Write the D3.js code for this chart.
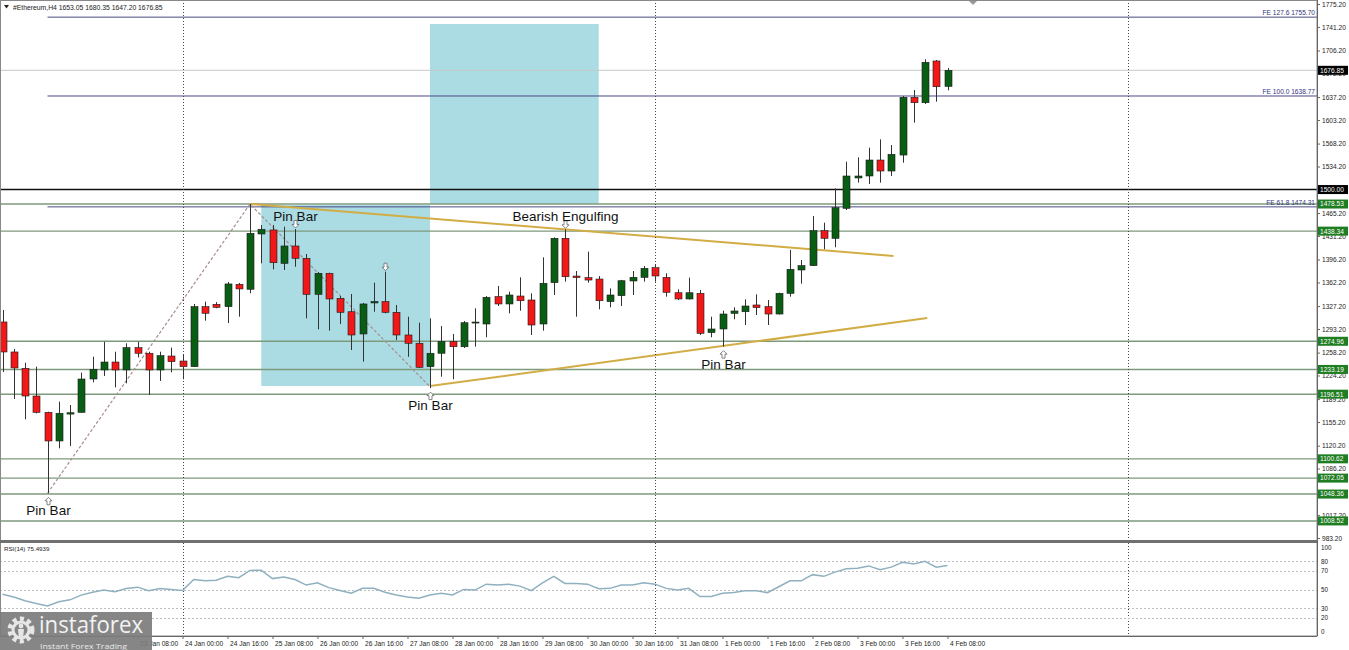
<!DOCTYPE html>
<html><head><meta charset="utf-8">
<script src="https://cdn.jsdelivr.net/npm/d3@7"></script>
<style>body{margin:0;background:#fff;overflow:hidden} svg{display:block;font-family:"Liberation Sans",Arial,sans-serif}</style>
</head><body><svg id="c" width="1349" height="650"></svg>
<script>
// ---------- DATA ----------
const symbolName = "#Ethereum,H4";
const headerOHLC = ["1653.05", "1680.35", "1647.20", "1676.85"];
const firstBarIndex = -16; // bars relative to 24 Jan 00:00 (H4)
const opens  = [1303.6,1259.1,1234.9,1193.8,1169.6,1127.1,1167.0,1169.6,1219.0,1232.4,1244.2,1232.4,1265.5,1257.2,1232.4,1253.1,1245.7,1237.3,1326.3,1329.8,1326.3,1359.5,1352.1,1434.1,1440.1,1390.6,1416.3,1398.0,1344.6,1375.8,1338.7,1318.8,1285.8,1331.8,1333.8,1317.9,1284.3,1272.0,1237.3,1257.2,1274.4,1266.9,1302.0,1300.6,1341.1,1330.3,1342.1,1336.2,1300.6,1361.9,1427.7,1371.7,1369.3,1367.3,1333.7,1342.6,1364.4,1369.8,1384.1,1369.8,1347.0,1337.7,1346.1,1287.8,1293.2,1316.4,1318.8,1328.8,1326.3,1315.4,1346.1,1380.7,1387.1,1439.0,1427.7,1472.2,1517.2,1520.1,1543.8,1527.5,1551.2,1636.8,1628.8,1690.7,1653.05];
const highs  = [1321.4,1263.5,1243.2,1237.3,1170.5,1185.4,1180.5,1228.4,1252.1,1274.3,1259.5,1272.0,1274.3,1259.5,1259.5,1265.5,1254.6,1330.3,1333.7,1333.0,1363.0,1361.4,1478.5,1447.4,1447.4,1444.9,1441.5,1404.4,1377.7,1376.7,1342.1,1345.1,1331.8,1361.9,1378.2,1328.8,1311.4,1302.5,1309.0,1297.6,1285.8,1305.0,1323.9,1342.0,1357.0,1348.5,1369.8,1346.1,1399.5,1429.0,1441.0,1379.2,1407.8,1371.7,1353.5,1366.0,1379.2,1386.6,1388.1,1375.8,1352.1,1369.3,1351.0,1311.4,1320.3,1325.4,1337.2,1344.6,1336.2,1347.0,1410.4,1395.5,1460.8,1450.9,1501.8,1541.3,1547.8,1562.1,1574.5,1566.0,1638.8,1647.7,1693.2,1692.1,1680.35];
const lows   = [1229.4,1189.4,1159.3,1168.0,1049.5,1116.2,1119.7,1169.0,1214.1,1223.5,1206.7,1212.6,1251.0,1195.3,1216.1,1229.0,1218.6,1236.8,1305.5,1324.0,1302.0,1311.4,1346.2,1390.6,1381.7,1380.7,1385.5,1309.0,1292.7,1290.7,1300.6,1262.0,1244.7,1318.8,1316.4,1276.9,1251.9,1235.4,1205.5,1222.4,1218.6,1265.0,1267.0,1280.9,1327.3,1316.4,1320.3,1284.3,1290.7,1343.6,1363.4,1311.4,1361.9,1322.4,1325.4,1327.3,1343.6,1363.4,1363.4,1341.1,1336.2,1336.9,1284.3,1280.9,1267.0,1307.6,1299.1,1313.9,1299.1,1314.7,1341.1,1360.4,1386.6,1411.4,1414.4,1469.7,1510.2,1508.3,1510.2,1520.1,1539.8,1599.2,1626.9,1630.3,1647.20];
const closes = [1259.1,1235.4,1193.8,1169.6,1127.1,1168.2,1169.0,1219.0,1233.4,1244.2,1232.4,1265.5,1257.2,1232.4,1253.6,1244.7,1237.3,1326.3,1316.5,1325.3,1360.0,1352.6,1435.1,1441.1,1391.5,1416.3,1398.0,1344.6,1375.8,1337.7,1317.9,1284.3,1330.3,1334.0,1317.9,1284.3,1272.0,1236.4,1257.2,1274.4,1266.9,1302.5,1303.5,1340.2,1330.3,1343.6,1335.1,1299.1,1361.0,1427.7,1370.7,1369.5,1365.8,1335.1,1343.6,1364.8,1369.8,1383.2,1371.8,1347.6,1337.7,1347.0,1286.8,1293.2,1315.4,1319.9,1327.3,1324.8,1315.4,1346.1,1381.7,1387.1,1439.0,1427.7,1473.1,1520.1,1520.1,1543.8,1527.5,1552.3,1636.8,1628.8,1688.7,1652.5,1676.85];
const rsiValues = [45,42,38,35,32.5,37,39,44,47,49.4,47.7,51,52.5,48.7,51,50,49,60.6,59.2,59.9,64,62.6,70.3,70.5,61.6,63.3,60.6,54.7,57.1,52,49,46,51.2,51.2,47,44.2,42,40.8,44.2,46,44.2,50.1,49.4,55.7,54.7,55.7,53.6,48.7,57.1,64,56.4,56.4,55.7,50.8,51.2,54.7,54.7,57.1,55.7,51.2,49.4,51.2,42.5,42.5,46,46.7,48.7,48.7,46.7,52.9,59.2,59.2,65.8,64,68.5,72,72.7,75.1,71,73.8,79,77.2,80,73.8,75.49];
const rsiLabel = "RSI(14) 75.4939";
const priceTicks = [1775.20,1741.20,1706.20,1672.20,1637.20,1603.20,1568.20,1534.20,1499.20,1465.20,1431.20,1396.20,1362.20,1327.20,1293.20,1258.20,1224.20,1189.20,1155.20,1120.20,1086.20,1051.20,1017.20,983.20];
const rsiTicks = [100,80,70,50,30,20,0];
const rsiLevels = [80,70,50,30,20];
const timeTickIndex = [-4,0,4,8,12,16,20,24,28,32,36,40,44,48,52,56,60,64,68];
const timeTickLabels = ["23 Jan 08:00","24 Jan 00:00","24 Jan 16:00","25 Jan 08:00","26 Jan 00:00","26 Jan 16:00","27 Jan 08:00","28 Jan 00:00","28 Jan 16:00","29 Jan 08:00","30 Jan 00:00","30 Jan 16:00","31 Jan 08:00","1 Feb 00:00","1 Feb 16:00","2 Feb 08:00","3 Feb 00:00","3 Feb 16:00","4 Feb 08:00"];
const weekSeparatorIndex = [0, 42, 84];
const supportLevels = [1478.53,1438.34,1274.96,1233.19,1196.51,1100.62,1072.05,1048.36,1008.52];
const roundLevel = 1500.00;
const lastPrice = 1676.85;
const fibNames = ["FE 127.6","FE 100.0","FE 61.8"];
const fibValues = [1755.70,1638.77,1474.31];
const fibStartIndex = -12;
const zigzagIndex = [-12, 6, 22];
const zigzagPrice = [1049.5, 1478.5, 1207.6];
const upperTrendIndex = [6, 63.2];
const upperTrendPrice = [1478.5, 1401.5];
const lowerTrendIndex = [22, 66.2];
const lowerTrendPrice = [1208.5, 1309.5];
const zoneStart = [7, 22];
const zoneEnd = [22, 37];
const zoneTop = [1477.0, 1745.5];
const zoneBottom = [1208.7, 1478.6];
const noteIndex = [-12, 10, 18, 22, 34, 48];
const noteSide  = ["low","high","high","low","high","low"];
const noteText  = ["Pin Bar","Pin Bar","","Pin Bar","Bearish Engulfing","Pin Bar"];

// ---------- LAYOUT ----------
const plotR = 1317, mainTop = 0, mainBot = 541, rsiBot = 636;
const svg = d3.select("#c");
const bars = opens.map((o,i)=>({i:firstBarIndex+i,o,h:highs[i],l:lows[i],c:closes[i]}));

const x = d3.scaleLinear().domain([0, 84]).range([182.5, 1127.5]);
const y = d3.scaleLinear().domain([983.2, 1775.2]).range([538, 4]);
const yr = d3.scaleLinear().domain([0, 100]).range([636.5, 542.5]);

const smallFont = "6.6px";
const ink = "#222";

svg.append("defs").append("clipPath").attr("id","mainClip").append("rect")
  .attr("x",0).attr("y",mainTop).attr("width",plotR).attr("height",mainBot-mainTop);
const main = svg.append("g").attr("clip-path","url(#mainClip)");

// zones
main.selectAll("rect.zone").data(zoneStart).join("rect").attr("class","zone")
  .attr("x",(d)=>x(d)).attr("width",(d,i)=>x(zoneEnd[i])-x(d))
  .attr("y",(d,i)=>y(zoneTop[i])).attr("height",(d,i)=>y(zoneBottom[i])-y(zoneTop[i]))
  .attr("fill","#abdce4");

// week separators
svg.selectAll("line.wk").data(weekSeparatorIndex).join("line").attr("class","wk")
  .attr("x1",d=>Math.round(x(d))+0.5).attr("x2",d=>Math.round(x(d))+0.5)
  .attr("y1",0).attr("y2",rsiBot)
  .attr("stroke","#444").attr("stroke-width",1).attr("stroke-dasharray","1,2");

// current price line
main.append("line").attr("x1",0).attr("x2",plotR).attr("y1",y(lastPrice)).attr("y2",y(lastPrice))
  .attr("stroke","#c8c8c8").attr("stroke-width",1);

// support levels
main.selectAll("line.sup").data(supportLevels).join("line").attr("class","sup")
  .attr("x1",0).attr("x2",plotR).attr("y1",d=>y(d)).attr("y2",d=>y(d))
  .attr("stroke","#7d9a7d").attr("stroke-width",1.4);

// fib lines
main.selectAll("line.fib").data(fibValues).join("line").attr("class","fib")
  .attr("x1",x(fibStartIndex)).attr("x2",plotR).attr("y1",d=>y(d)).attr("y2",d=>y(d))
  .attr("stroke","#4b4b85").attr("stroke-width",1);
svg.selectAll("text.fib").data(fibValues).join("text").attr("class","fib")
  .attr("x",plotR-2).attr("y",d=>y(d)-2).attr("text-anchor","end")
  .attr("font-size",smallFont).attr("fill","#33337a")
  .text((d,i)=>fibNames[i]+" "+d.toFixed(2));

// round level
main.append("line").attr("x1",0).attr("x2",plotR).attr("y1",y(roundLevel)).attr("y2",y(roundLevel))
  .attr("stroke","#111").attr("stroke-width",1.6);

// zigzag
const lineGen = d3.line().x(d=>x(d[0])).y(d=>y(d[1]));
main.append("path").datum(zigzagIndex.map((d,i)=>[d,zigzagPrice[i]]))
  .attr("d",lineGen).attr("fill","none").attr("stroke","#a88c8c").attr("stroke-width",1.2)
  .attr("stroke-dasharray","3,2");

// trend lines
[[upperTrendIndex,upperTrendPrice],[lowerTrendIndex,lowerTrendPrice]].forEach(([xi,pi])=>{
  main.append("path").datum(xi.map((d,i)=>[d,pi[i]])).attr("d",lineGen)
    .attr("fill","none").attr("stroke","#d2ad45").attr("stroke-width",2);
});

// candles
const cg = main.append("g");
cg.selectAll("line.wick").data(bars).join("line").attr("class","wick")
  .attr("x1",d=>Math.round(x(d.i))+0.5).attr("x2",d=>Math.round(x(d.i))+0.5)
  .attr("y1",d=>y(d.h)).attr("y2",d=>y(d.l)).attr("stroke","#333").attr("stroke-width",1);
cg.selectAll("rect.body").data(bars).join("rect").attr("class","body")
  .attr("x",d=>Math.round(x(d.i))-3).attr("width",7)
  .attr("y",d=>y(Math.max(d.o,d.c)))
  .attr("height",d=>Math.max(1,Math.abs(y(d.o)-y(d.c))))
  .attr("fill",d=>d.c>=d.o?"#0a5e14":"#f01818")
  .attr("stroke","#1a1a1a").attr("stroke-width",0.6);

// notes (arrows + text)
const upArrow = "M0,0 L3.5,3.5 L1.5,3.5 L1.5,7.5 L-1.5,7.5 L-1.5,3.5 L-3.5,3.5 Z";
const downArrow = "M0,0 L3.5,-3.5 L1.5,-3.5 L1.5,-7.5 L-1.5,-7.5 L-1.5,-3.5 L-3.5,-3.5 Z";
noteIndex.forEach((idx,k)=>{
  const b = bars[idx-firstBarIndex];
  const cx = Math.round(x(idx))+0.5;
  if(noteSide[k]==="low"){
    const yy = y(b.l);
    main.append("path").attr("d",upArrow).attr("transform",`translate(${cx},${yy+4})`)
      .attr("fill","#fff").attr("stroke","#666").attr("stroke-width",0.8);
    if(noteText[k]) main.append("text").attr("x",cx).attr("y",yy+22).attr("text-anchor","middle")
      .attr("font-size","13.5px").attr("fill","#111").text(noteText[k]);
  } else {
    const yy = y(b.h);
    main.append("path").attr("d",downArrow).attr("transform",`translate(${cx},${yy-1})`)
      .attr("fill","#fff").attr("stroke","#666").attr("stroke-width",0.8);
    if(noteText[k]) main.append("text").attr("x",cx).attr("y",yy-8).attr("text-anchor","middle")
      .attr("font-size","13.5px").attr("fill","#111").text(noteText[k]);
  }
});

// ---------- RSI panel ----------
svg.selectAll("line.rl").data(rsiLevels).join("line").attr("class","rl")
  .attr("x1",0).attr("x2",plotR).attr("y1",d=>Math.round(yr(d))+0.5).attr("y2",d=>Math.round(yr(d))+0.5)
  .attr("stroke","#bdbdbd").attr("stroke-width",1).attr("stroke-dasharray","2,2");
svg.append("path").datum(rsiValues.map((v,i)=>[firstBarIndex+i,v]))
  .attr("d",d3.line().x(d=>x(d[0])).y(d=>yr(d[1])))
  .attr("fill","none").attr("stroke","#8fb0bf").attr("stroke-width",1.5);
svg.append("text").attr("x",4).attr("y",551).attr("font-size","6.2px").attr("fill",ink).text(rsiLabel);

// frames and separators
svg.append("rect").attr("x",0.5).attr("y",0.5).attr("width",plotR-0.5).attr("height",rsiBot-0.5)
  .attr("fill","none").attr("stroke","#888").attr("stroke-width",1);
svg.append("rect").attr("x",0).attr("y",540).attr("width",plotR).attr("height",3).attr("fill","#707070");

// ---------- AXES ----------
const yAxis = d3.axisRight(y).tickValues(priceTicks).tickFormat(d3.format(".2f")).tickSize(3).tickPadding(2);
const ya = svg.append("g").attr("transform",`translate(${plotR},0)`).call(yAxis);
ya.select(".domain").attr("stroke","#666");
ya.selectAll("text").attr("font-size",smallFont).attr("fill",ink).attr("font-family","Liberation Sans, Arial");
ya.selectAll("line").attr("stroke","#666");

const rAxis = d3.axisRight(yr).tickValues(rsiTicks).tickSize(0).tickPadding(4);
const ra = svg.append("g").attr("transform",`translate(${plotR},0)`).call(rAxis);
ra.select(".domain").remove();
ra.selectAll("text").attr("font-size","6.3px").attr("fill",ink).attr("font-family","Liberation Sans, Arial")
  .attr("dy",d=>d===100?"1.1em":(d===0?"-0.5em":"0.32em"));
svg.append("line").attr("x1",plotR+0.5).attr("x2",plotR+0.5).attr("y1",0).attr("y2",rsiBot).attr("stroke","#666");

const xAxis = d3.axisBottom(x).tickValues(timeTickIndex).tickFormat((d,i)=>timeTickLabels[i]).tickSize(3);
const xa = svg.append("g").attr("transform",`translate(0,${rsiBot})`).call(xAxis);
xa.select(".domain").attr("stroke","#666").attr("d",`M0,0.5H${plotR}`);
xa.selectAll("line").attr("stroke","#666");
xa.selectAll("text").attr("text-anchor","start").attr("x",2).attr("y",10).attr("dy","0")
  .attr("font-size",smallFont).attr("fill",ink).attr("font-family","Liberation Sans, Arial");

// level labels (boxes)
function boxLabel(v, fill){
  const g = svg.append("g").attr("transform",`translate(${plotR+1},${y(v)})`);
  g.append("rect").attr("x",0).attr("y",-4.5).attr("width",30).attr("height",9).attr("fill",fill);
  g.append("text").attr("x",2).attr("y",2.4).attr("font-size",smallFont).attr("fill","#fff").text(v.toFixed(2));
}
supportLevels.forEach(v=>boxLabel(v,"#1f7d22"));
boxLabel(roundLevel,"#000");
boxLabel(lastPrice,"#000");

// header
svg.append("path").attr("d","M4,5 L9,5 L6.5,8.5 Z").attr("fill","#222");
svg.append("text").attr("x",13).attr("y",9.5).attr("font-size","6.8px").attr("fill",ink)
  .text(symbolName+"  "+headerOHLC.join(" "));
svg.append("path").attr("d","M969,1 L977,1 L973,5 Z").attr("fill","#999");

// ---------- LOGO ----------
const logo = svg.append("g");
logo.append("rect").attr("x",0).attr("y",612).attr("width",152).attr("height",38).attr("fill","#7c7c7c").attr("opacity",0.92);
const gear = logo.append("g").attr("transform","translate(21,630)");
gear.append("circle").attr("r",11).attr("fill","none").attr("stroke","#e6e6e6").attr("stroke-width",5).attr("stroke-dasharray","4,3.2");
gear.append("circle").attr("r",8).attr("fill","none").attr("stroke","#e6e6e6").attr("stroke-width",3);
gear.append("circle").attr("cx",0).attr("cy",-4).attr("r",2.4).attr("fill","#e6e6e6");
gear.append("path").attr("d","M-3,-1 L3,-1 L2,9 L-2,9 Z").attr("fill","#e6e6e6");
logo.append("text").attr("x",39).attr("y",633).attr("font-family","Open Sans, Lato, sans-serif")
  .attr("font-size","23px").attr("fill","#f2f2f2").attr("textLength",104).attr("lengthAdjust","spacingAndGlyphs").text("instaforex");
logo.append("text").attr("x",40).attr("y",648.5).attr("font-family","Open Sans, Lato, sans-serif")
  .attr("font-size","8px").attr("fill","#eaeaea").attr("textLength",87).attr("lengthAdjust","spacingAndGlyphs").text("Instant Forex Trading");
</script></body></html>
